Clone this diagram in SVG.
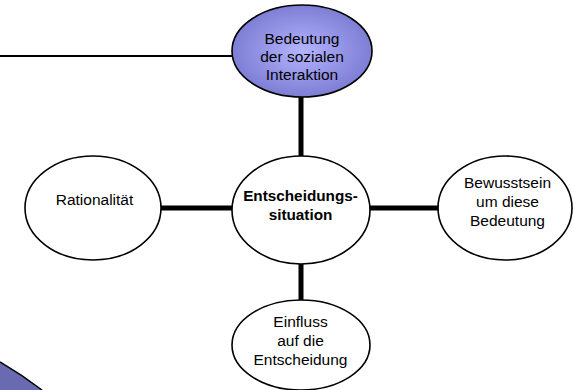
<svg xmlns="http://www.w3.org/2000/svg" width="575" height="390" viewBox="0 0 575 390">
<defs>
<radialGradient id="g" cx="50%" cy="50%" r="55%">
<stop offset="0" stop-color="#b4b4ff"/>
<stop offset="1" stop-color="#7878d0"/>
</radialGradient>
</defs>
<style>
.n{fill:#fff;stroke:#000;stroke-width:1.6}
.t{font-family:"Liberation Sans",Arial,sans-serif;font-size:15.5px;fill:#000;text-anchor:middle}
.b{font-weight:bold;font-size:15.3px}
.thick{stroke:#000;stroke-width:5;fill:none}
.thin{stroke:#000;stroke-width:2;fill:none}
</style>
<path d="M-10,355 L0,362 Q22,375 42,390 L-10,390 Z" fill="#6a6ab0"/>
<path d="M0,362 Q22,375 42,390" fill="none" stroke="#000" stroke-width="1.5"/>
<g id="connectors">
<line class="thin" x1="0" y1="56" x2="233" y2="56"/>
<line class="thick" x1="301" y1="96" x2="301" y2="156"/>
<line class="thick" x1="161" y1="208" x2="233" y2="208"/>
<line class="thick" x1="369" y1="208" x2="438" y2="208"/>
<line class="thick" x1="301" y1="262" x2="301" y2="301"/>
</g>
<g id="n-bedeutung">
<ellipse cx="302" cy="51" rx="70" ry="46" fill="url(#g)" stroke="#000" stroke-width="1.6"/>
<text class="t" x="302" y="44">Bedeutung</text>
<text class="t" x="302" y="62">der sozialen</text>
<text class="t" x="302" y="80">Interaktion</text>
</g>
<g id="n-center">
<ellipse class="n" cx="301" cy="210" rx="69" ry="54"/>
<text class="t b" x="300.5" y="201">Entscheidungs-</text>
<text class="t b" x="300.5" y="220">situation</text>
</g>
<g id="n-rationalitaet">
<ellipse class="n" cx="93" cy="208" rx="68" ry="52"/>
<text class="t" x="94.5" y="205">Rationalität</text>
</g>
<g id="n-bewusstsein">
<ellipse class="n" cx="505" cy="208" rx="67" ry="52"/>
<text class="t" x="507.5" y="188">Bewusstsein</text>
<text class="t" x="507.5" y="207">um diese</text>
<text class="t" x="507.5" y="226">Bedeutung</text>
</g>
<g id="n-einfluss">
<ellipse class="n" cx="301" cy="345" rx="69" ry="45"/>
<text class="t" x="300.5" y="327">Einfluss</text>
<text class="t" x="300.5" y="346">auf die</text>
<text class="t" x="300.5" y="365">Entscheidung</text>
</g>
</svg>
